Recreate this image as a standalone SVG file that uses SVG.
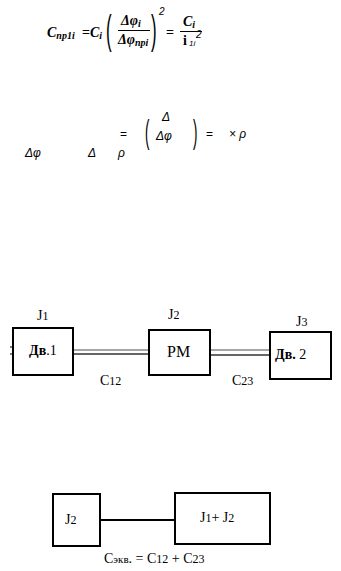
<svg xmlns="http://www.w3.org/2000/svg" width="341" height="571" viewBox="0 0 341 571">
<style>
.f{font-family:"Liberation Serif","Times New Roman",serif;fill:#000}
.bi{font-family:"Liberation Serif","Times New Roman",serif;font-weight:bold;font-style:italic;fill:#000}
.gi{font-family:"Liberation Sans",Arial,sans-serif;font-style:italic;fill:#000}
.g{font-family:"Liberation Sans",Arial,sans-serif;fill:#000}
.box{fill:#fff;stroke:#000;stroke-width:2}
.shaft{stroke:#333;stroke-width:1.3;fill:none}
.shaft2{stroke:#888;stroke-width:1.3;fill:none}
.lbl{font-family:"Liberation Serif","Times New Roman",serif;fill:#000}
</style>
<g id="formula1">
<text class="bi" x="47" y="37" font-size="14">C<tspan font-size="10" dy="2">пр1i</tspan></text>
<text class="f" x="82" y="37" font-size="14" font-weight="bold">=</text>
<text class="bi" x="90" y="37" font-size="14">C<tspan font-size="10" dy="2">i</tspan></text>
<text class="g" x="0" y="0" font-size="14" transform="translate(106,44) scale(1.2,2.9)">(</text>
<text class="bi" x="121" y="25" font-size="14">Δφ<tspan font-size="10" dy="2">i</tspan></text>
<line x1="118" y1="30.5" x2="150" y2="30.5" stroke="#000" stroke-width="1"/>
<text class="bi" x="118" y="44" font-size="14">Δφ<tspan font-size="10" dy="2">прi</tspan></text>
<text class="g" x="0" y="0" font-size="14" transform="translate(151,44) scale(1.2,2.9)">)</text>
<text class="gi" x="159" y="15" font-size="10">2</text>
<text class="f" x="166" y="37" font-size="14" font-weight="bold">=</text>
<text class="bi" x="183" y="26" font-size="14">C<tspan font-size="10" dy="2">i</tspan></text>
<line x1="180" y1="31.5" x2="202" y2="31.5" stroke="#000" stroke-width="1"/>
<text class="f" x="183" y="45" font-size="14" font-weight="bold">i</text>
<text class="gi" x="189" y="46" font-size="8">1i</text>
<text class="gi" x="196" y="38" font-size="10">2</text>
</g>
<g id="formula2">
<text class="g" x="120" y="138" font-size="12">=</text>
<text class="g" x="0" y="0" font-size="12" transform="translate(145,143) scale(1.1,2.8)">(</text>
<text class="gi" x="162" y="121" font-size="12">Δ</text>
<text class="gi" x="156" y="140" font-size="12">Δφ</text>
<text class="g" x="0" y="0" font-size="12" transform="translate(193,143) scale(1.1,2.8)">)</text>
<text class="g" x="206" y="138" font-size="12">=</text>
<text class="gi" x="229" y="138" font-size="12">× ρ</text>
<text class="gi" x="25" y="157" font-size="12">Δφ</text>
<text class="gi" x="88" y="157" font-size="12">Δ</text>
<text class="gi" x="118" y="157" font-size="12">ρ</text>
</g>
<g id="connectors">
<line class="shaft" x1="10" y1="347" x2="13" y2="347"/>
<line class="shaft" x1="10" y1="354" x2="13" y2="354"/>
<line class="shaft2" x1="73" y1="350" x2="149" y2="350"/>
<line class="shaft" x1="73" y1="354" x2="149" y2="354"/>
<line class="shaft2" x1="210" y1="350" x2="270" y2="350"/>
<line class="shaft" x1="210" y1="355" x2="270" y2="355"/>
<line x1="100" y1="520" x2="175" y2="520" stroke="#000" stroke-width="2.2"/>
</g>
<g id="node-dv1">
<rect class="box" x="13" y="328" width="60" height="47"/>
<text class="lbl" x="37" y="320" font-size="14">J<tspan font-size="12">1</tspan></text>
<text class="lbl" x="29" y="355" font-size="14"><tspan font-weight="bold">Дв</tspan>.1</text>
</g>
<g id="node-rm">
<rect class="box" x="149" y="330" width="61" height="45"/>
<text class="lbl" x="168" y="319" font-size="14">J<tspan font-size="12">2</tspan></text>
<text class="lbl" x="167" y="357" font-size="16">РМ</text>
</g>
<g id="node-dv2">
<rect class="box" x="270" y="332" width="61" height="47"/>
<text class="lbl" x="296" y="326" font-size="14">J<tspan font-size="12">3</tspan></text>
<text class="lbl" x="275" y="359" font-size="14"><tspan font-weight="bold">Дв.</tspan> 2</text>
</g>
<g id="labels-c">
<text class="lbl" x="100" y="385" font-size="14">C<tspan font-size="12">12</tspan></text>
<text class="lbl" x="232" y="385" font-size="14">C<tspan font-size="12">23</tspan></text>
</g>
<g id="node-j2">
<rect class="box" x="53" y="494" width="47" height="52"/>
<text class="lbl" x="65" y="524" font-size="14">J<tspan font-size="12">2</tspan></text>
</g>
<g id="node-j1j2">
<rect class="box" x="175" y="493" width="95" height="51"/>
<text class="lbl" x="200" y="522" font-size="14">J<tspan font-size="12">1</tspan>+ J<tspan font-size="12">2</tspan></text>
</g>
<g id="label-ceq">
<text class="lbl" x="104" y="563" font-size="14">С<tspan font-size="11">экв</tspan>. = С<tspan font-size="12">12</tspan> + С<tspan font-size="12">23</tspan></text>
</g>
</svg>
